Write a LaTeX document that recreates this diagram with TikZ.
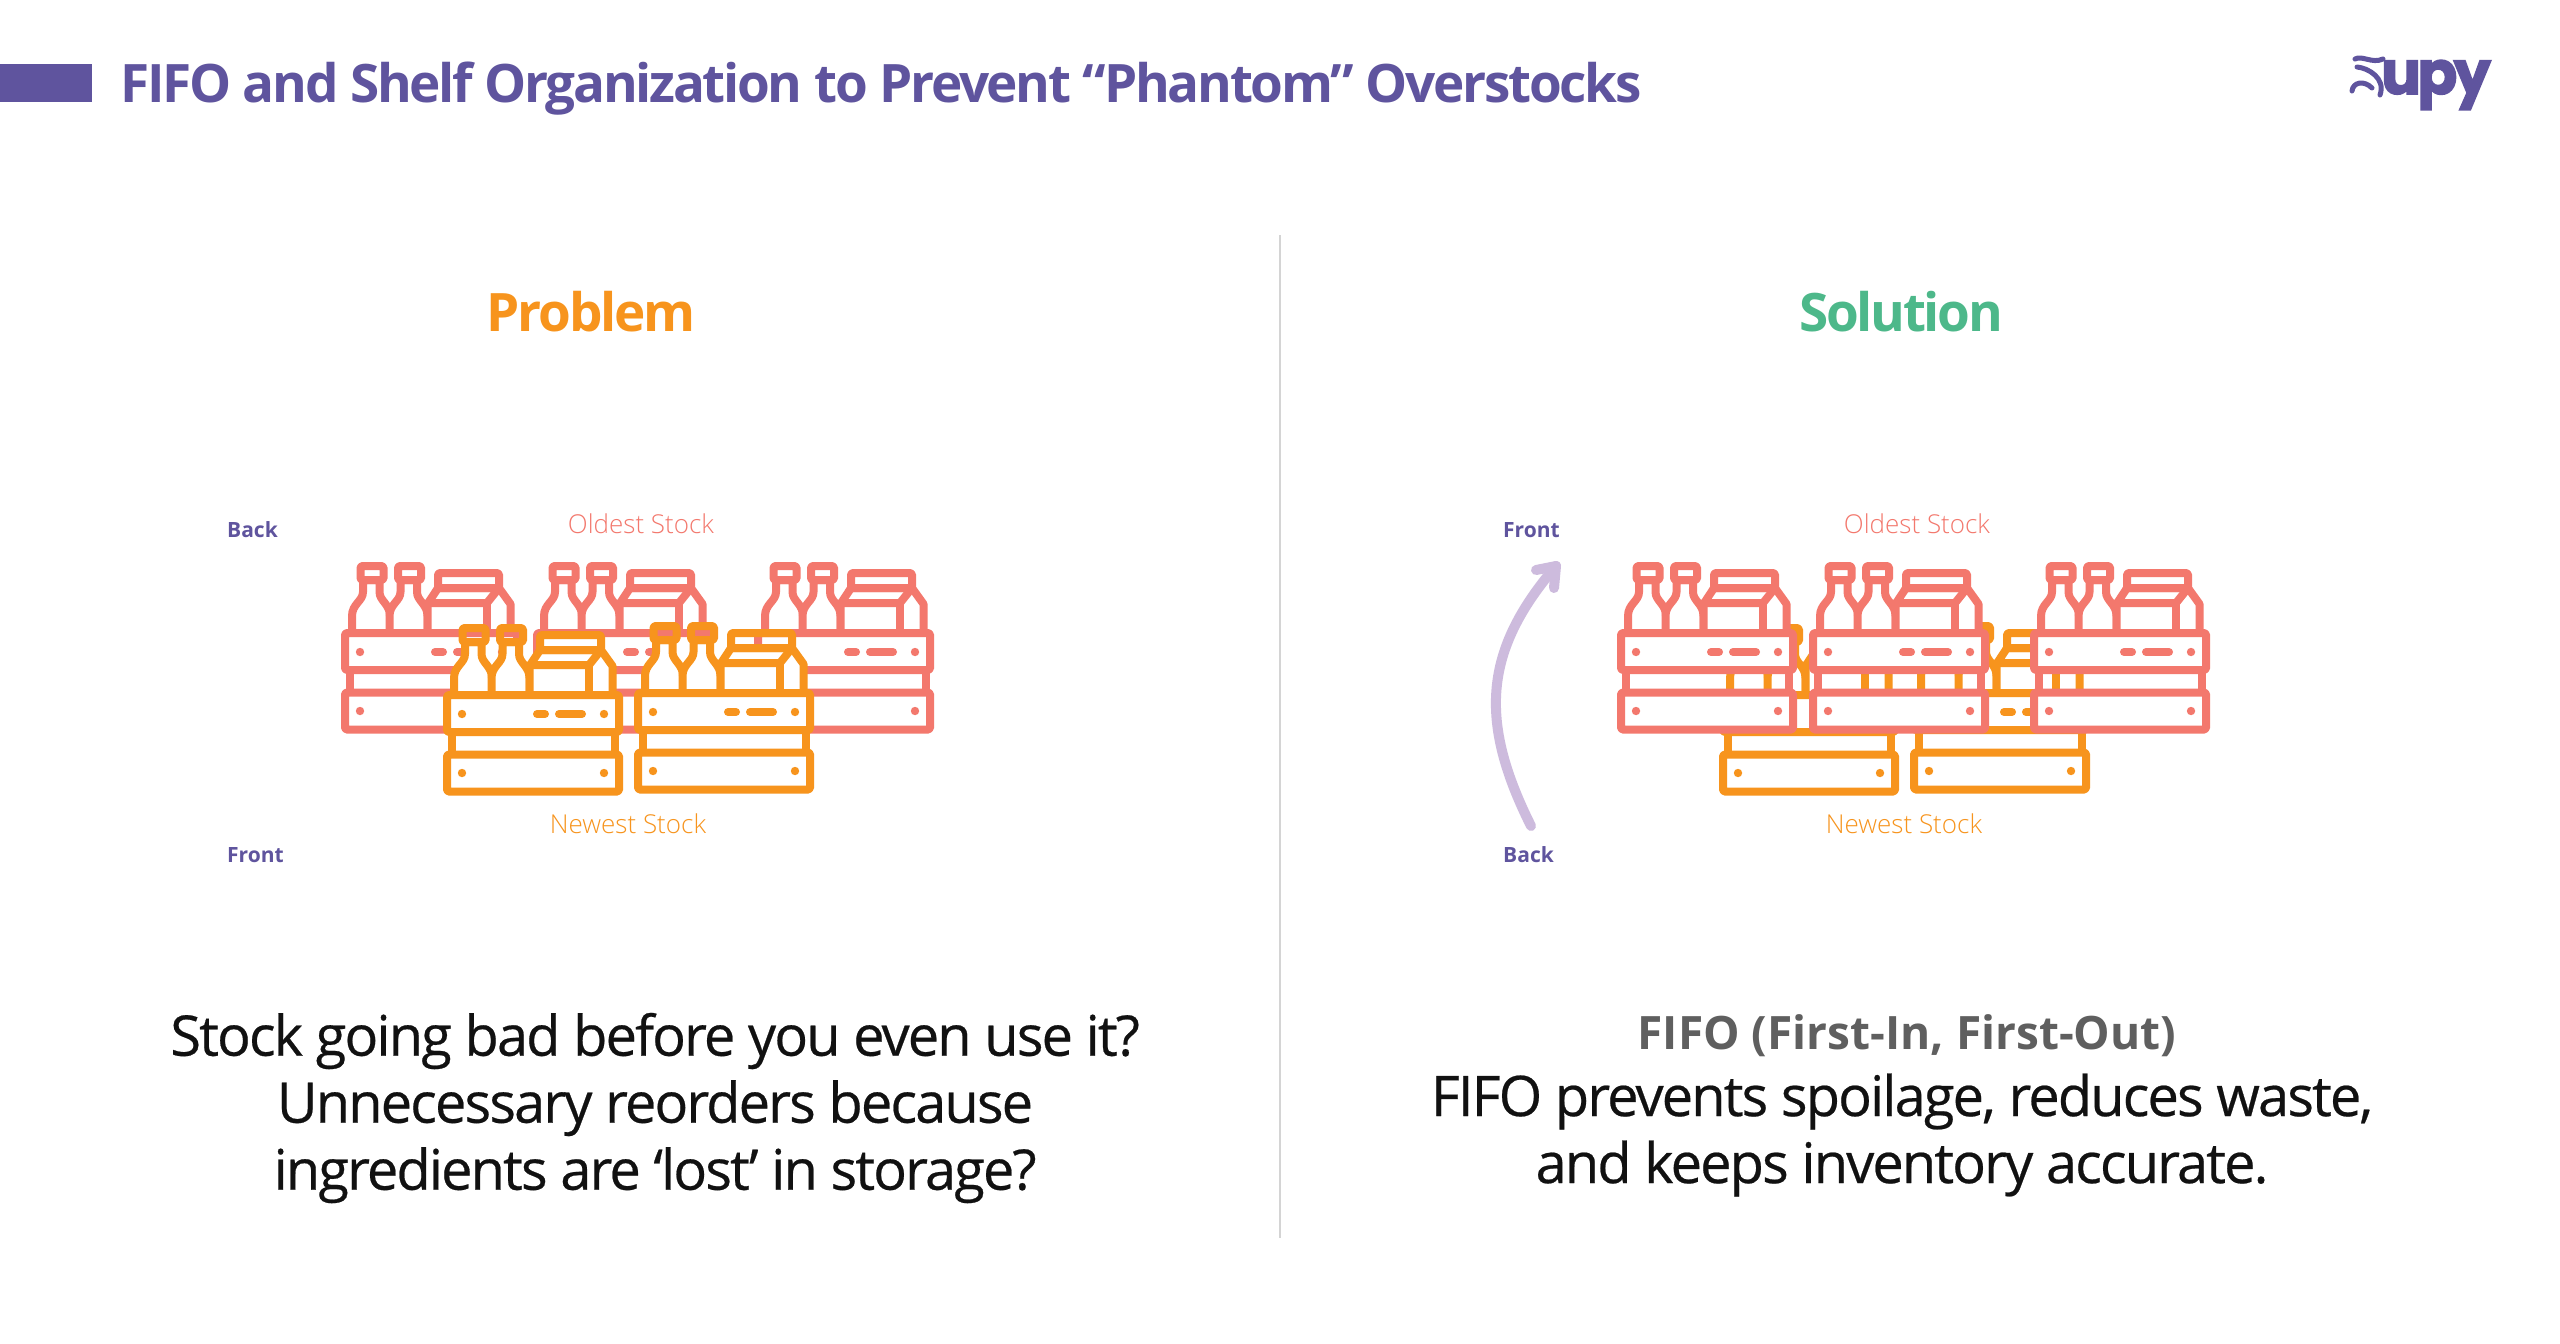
\documentclass[tikz,border=0pt]{standalone}
\usepackage{fontspec}
\setmainfont{Open Sans}
\newfontfamily\bodyface[LetterSpace=-3.4,FakeBold=0.4]{Open Sans}
\newfontfamily\headface[LetterSpace=-4.3]{Open Sans}
\newfontfamily\thinface{Open Sans Light}
\newfontfamily\logoface[LetterSpace=-6,FakeBold=2.5]{Poppins}
\definecolor{brandpurple}{HTML}{5F549E}
\definecolor{oldred}{HTML}{F3786D}
\definecolor{newamber}{HTML}{F7941D}
\definecolor{solgreen}{HTML}{4DB88A}
\definecolor{arrowlilac}{HTML}{CDBBDD}
\definecolor{subgray}{HTML}{5F5F5F}
\definecolor{inktext}{HTML}{111111}
\definecolor{rulegray}{HTML}{D4D4D4}
\tikzset{
  bodytext/.style={align=center,text=inktext,inner sep=0pt,font=\fontsize{56}{67}\bodyface},
  sidetag/.style={anchor=west,inner sep=0pt,text=brandpurple,font=\fontsize{21}{25}\selectfont\bfseries},
  stocktag/.style={inner sep=0pt,font=\fontsize{26}{30}\thinface},
  panelhead/.style={inner sep=0pt,font=\fontsize{53}{60}\headface\bfseries},
  cratestroke/.style={line width=8pt,line join=round,line cap=round},
}
% One crate with two bottles and a carton; local origin is the icon's top-left corner.
\newcommand{\crateicon}[3]{%
  \begin{scope}[shift={(#1,#2)},cratestroke,draw=#3]
    \foreach \bx in {0,37.5}{
      \begin{scope}[xshift=\bx pt]
        \draw[fill=white] (10,68) -- (10,54) .. controls (10,42) and (21,39) .. (21,30) -- (21,18)
          -- (37.5,18) -- (37.5,30) .. controls (37.5,39) and (48,42) .. (48,54) -- (48,68);
        \draw[rounded corners=1.5pt] (18.5,4) rectangle (41.5,18);
      \end{scope}
    }
    \draw[fill=white] (85.5,68) -- (85.5,42) -- (96,26) -- (157,26) -- (168.5,42) -- (168.5,68);
    \draw (85.5,41) -- (145,41) -- (157,26);
    \draw (145,41) -- (145,68);
    \draw[rounded corners=1.5pt] (96,11) rectangle (157,26);
    \draw (7.5,108) -- (7.5,131) (170.5,108) -- (170.5,131);
    \draw[fill=white,rounded corners=1.5pt] (3,71) rectangle (175,108);
    \draw[fill=white,rounded corners=1.5pt] (3,130.5) rectangle (175,167.5);
    \fill[#3] (18,90) circle (4.2pt) (160,90) circle (4.2pt) (18,149) circle (4.2pt) (160,149) circle (4.2pt);
    \draw (93,90) -- (101,90) (115,90) -- (138,90);
  \end{scope}
}
\begin{document}
\begin{tikzpicture}[x=1pt,y=-1pt]
  \useasboundingbox (0,0) rectangle (2560,1344);
  \fill[white] (0,0) rectangle (2560,1344);

  % header band, title and wordmark
  \fill[brandpurple] (0,64) rectangle (92,102);
  \node[anchor=base west,inner sep=0pt,text=brandpurple,font=\fontsize{53}{60}\headface\bfseries] (title) at (120,102)
    {FIFO and Shelf Organization to Prevent “Phantom” Overstocks};
  \node[anchor=base west,inner sep=0pt,text=brandpurple,font=\fontsize{60}{60}\logoface\bfseries,xscale=.98] (wordmark) at (2381,94) {upy};
  \begin{scope}[draw=brandpurple,line width=5pt,line cap=round]
    \draw (2355,59) .. controls (2362,55) and (2372,64) .. (2383,59);
    \draw (2357,67) .. controls (2368,68) and (2386,78) .. (2380,95);
    \draw (2352,91) .. controls (2353,82) and (2364,80) .. (2372,88);
  \end{scope}

  % centre divider
  \draw[rulegray,line width=2pt] (1280,235) -- (1280,1238);

  % panel headings
  \node[panelhead,text=newamber] (probhead) at (591,312) {Problem};
  \node[panelhead,text=solgreen] (solhead) at (1901,312) {Solution};

  % problem panel: new crates stacked in front of old ones
  \crateicon{342}{562}{oldred}
  \crateicon{534}{562}{oldred}
  \crateicon{755}{562}{oldred}
  \crateicon{444}{624}{newamber}
  \crateicon{635}{622}{newamber}

  % solution panel: old crates moved to the front
  \crateicon{1720}{624}{newamber}
  \crateicon{1911}{622}{newamber}
  \crateicon{1618}{562}{oldred}
  \crateicon{1810}{562}{oldred}
  \crateicon{2031}{562}{oldred}

  \node[stocktag,text=oldred] (oldL) at (641,524) {Oldest Stock};
  \node[stocktag,text=newamber] (newL) at (628,824) {Newest Stock};
  \node[stocktag,text=oldred] (oldR) at (1917,524) {Oldest Stock};
  \node[stocktag,text=newamber] (newR) at (1904,824) {Newest Stock};

  \node[sidetag] (backL) at (227,530) {Back};
  \node[sidetag] (frontL) at (227,855) {Front};
  \node[sidetag] (frontR) at (1503,530) {Front};
  \node[sidetag] (backR) at (1503,855) {Back};

  % rotation arrow from back to front
  \coordinate (arrowstart) at (1531,826);
  \coordinate (arrowtip) at (1556,566);
  \coordinate (barbleft) at (1536,570);
  \coordinate (barbdown) at (1554,588);
  \draw[arrowlilac,line width=10pt,line cap=round,line join=round]
    (arrowstart) .. controls (1478,720) and (1484,650) .. (arrowtip);
  \draw[arrowlilac,line width=10pt,line cap=round,line join=round]
    (barbleft) -- (arrowtip) -- (barbdown);

  % captions
  \node[bodytext] (probtext) at (655,1108) {Stock going bad before you even use it?\\Unnecessary reorders because\\ingredients are ‘lost’ in storage?};
  \node[inner sep=0pt,text=subgray,font=\fontsize{46}{50}\selectfont\bfseries] (fifohead) at (1907,1036) {FIFO (First-In, First-Out)};
  \node[bodytext] (soltext) at (1902,1135) {FIFO prevents spoilage, reduces waste,\\and keeps inventory accurate.};
\end{tikzpicture}
\end{document}
